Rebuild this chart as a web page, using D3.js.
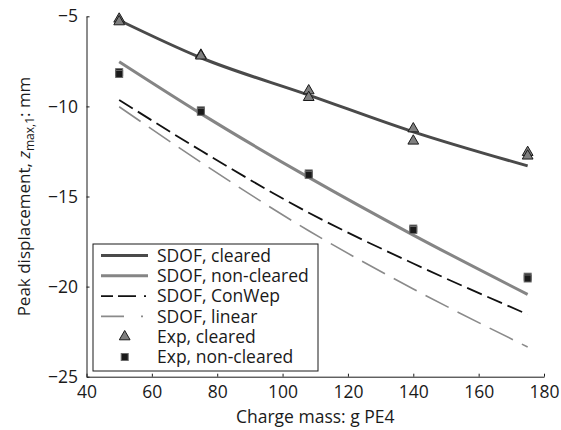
<!DOCTYPE html>
<html>
<head>
<meta charset="utf-8" />
<title>Peak displacement</title>
<script src="https://cdn.jsdelivr.net/npm/d3@7"></script>
<style>
    body { margin: 0; background: #fff; }
    text { font-family: "Open Sans", sans-serif; fill: #1a1a1a; }
</style>
</head>
<body>
<script>
    // charge masses (g PE4)
    var mass = [50, 75, 108, 140, 175]
    // SDOF predictions (mm)
    var sdofCleared = [-5.22, -7.3, -9.37, -11.41, -13.3]
    var sdofNonCleared = [-7.52, -10.4, -13.94, -17.14, -20.43]
    var sdofConWep = [-9.64, -12.45, -15.9, -18.72, -21.54]
    var sdofLinear = [-10.02, -13.1, -16.9, -20.13, -23.35]
    // experiments (two tests per charge)
    var expMass = [50, 50, 75, 75, 108, 108, 140, 140, 175, 175]
    var expCleared = [-5.15, -5.3, -7.15, -7.2, -9.13, -9.5, -11.24, -11.92, -12.55, -12.75]
    var expNonCleared = [-8.1, -8.2, -10.22, -10.3, -13.72, -13.8, -16.78, -16.86, -19.45, -19.55]

    var xTicks = [40, 60, 80, 100, 120, 140, 160, 180]
    var yTicks = [-25, -20, -15, -10, -5]

    var W = 561, H = 430
    var plot = { left: 86.5, right: 544, top: 16.3, bottom: 376.7 }
    var FONT = "17.5px"

    var svg = d3.select("body").append("svg").attr("width", W).attr("height", H)

    var x = d3.scaleLinear().domain([40, 180]).range([plot.left, plot.right])
    var y = d3.scaleLinear().domain([-25, -5]).range([plot.bottom, plot.top])

    var xAxis = svg.append("g").attr("transform", "translate(0," + plot.bottom + ")")
        .call(d3.axisBottom(x).tickValues(xTicks).tickSizeInner(-3).tickSizeOuter(0).tickPadding(9))
    var yAxis = svg.append("g").attr("transform", "translate(" + plot.left + ",0)")
        .call(d3.axisLeft(y).tickValues(yTicks).tickSizeInner(-3).tickSizeOuter(0).tickPadding(8.5))
    ;[xAxis, yAxis].forEach(function (g) {
        g.selectAll("text").style("font-size", FONT).style("font-family", "Open Sans, sans-serif").attr("fill", "#1a1a1a")
        g.selectAll("path, line").attr("stroke", "#1a1a1a")
    })

    var series = [
        { name: "SDOF, cleared", values: sdofCleared, color: "#4a4a4a", width: 3, dash: null },
        { name: "SDOF, non-cleared", values: sdofNonCleared, color: "#858585", width: 3, dash: null },
        { name: "SDOF, ConWep", values: sdofConWep, color: "#111", width: 1.8, dash: "16,6" },
        { name: "SDOF, linear", values: sdofLinear, color: "#8a8a8a", width: 1.6, dash: "26,10" }
    ]

    var line = d3.line()
        .x(function (d, i) { return x(mass[i]) })
        .y(function (d) { return y(d) })
        .curve(d3.curveMonotoneX)

    series.forEach(function (s) {
        svg.append("path").datum(s.values)
            .attr("d", line)
            .attr("fill", "none")
            .attr("stroke", s.color)
            .attr("stroke-width", s.width)
            .attr("stroke-dasharray", s.dash)
    })

    var tri = d3.symbol().type(d3.symbolTriangle).size(50)

    svg.append("g").selectAll("path").data(expCleared).enter().append("path")
        .attr("d", tri)
        .attr("transform", function (d, i) { return "translate(" + x(expMass[i]) + "," + y(d) + ")" })
        .attr("fill", "#7f7f7f").attr("stroke", "#1a1a1a").attr("stroke-width", 1)

    svg.append("g").selectAll("rect").data(expNonCleared).enter().append("rect")
        .attr("x", function (d, i) { return x(expMass[i]) - 3.5 })
        .attr("y", function (d) { return y(d) - 3.5 })
        .attr("width", 7).attr("height", 7)
        .attr("fill", "#1a1a1a").attr("stroke", "#6a6a6a").attr("stroke-width", 1)

    // legend
    var legend = svg.append("g")
    legend.append("rect").attr("x", 93).attr("y", 244).attr("width", 225).attr("height", 127)
        .attr("fill", "#fff").attr("stroke", "#1a1a1a").attr("stroke-width", 1)
    var names = series.map(function (s) { return s.name }).concat(["Exp, cleared", "Exp, non-cleared"])
    var rowY = function (i) { return 255.5 + i * 20.3 }
    series.forEach(function (s, i) {
        legend.append("line").attr("x1", 101).attr("x2", 148).attr("y1", rowY(i)).attr("y2", rowY(i))
            .attr("stroke", s.color).attr("stroke-width", s.width)
            .attr("stroke-dasharray", s.dash ? (i == 2 ? "12,5,18,8,2" : "23,17,2") : null)
    })
    legend.append("path").attr("d", tri).attr("transform", "translate(124.7," + rowY(4) + ")")
        .attr("fill", "#7f7f7f").attr("stroke", "#1a1a1a").attr("stroke-width", 1)
    legend.append("rect").attr("x", 121.2).attr("y", rowY(5) - 3.5).attr("width", 7).attr("height", 7)
        .attr("fill", "#1a1a1a").attr("stroke", "#6a6a6a").attr("stroke-width", 1)
    legend.selectAll("text.lab").data(names).enter().append("text").attr("class", "lab")
        .attr("x", 157).attr("y", function (d, i) { return rowY(i) })
        .attr("dy", "0.36em").style("font-size", FONT)
        .text(function (d) { return d })

    // axis titles
    svg.append("text").attr("x", (plot.left + plot.right) / 2).attr("y", 423)
        .attr("text-anchor", "middle").style("font-size", FONT)
        .text("Charge mass: g PE4")
    var yl = svg.append("text").attr("transform", "translate(30," + (plot.top + plot.bottom) / 2 + ") rotate(-90)")
        .attr("text-anchor", "middle").style("font-size", "17px")
    yl.append("tspan").text("Peak displacement, ")
    yl.append("tspan").style("font-style", "italic").text("z")
    yl.append("tspan").attr("dy", 4).style("font-size", "12px").text("max,1")
    yl.append("tspan").attr("dy", -4).text(": mm")
</script>
</body>
</html>
